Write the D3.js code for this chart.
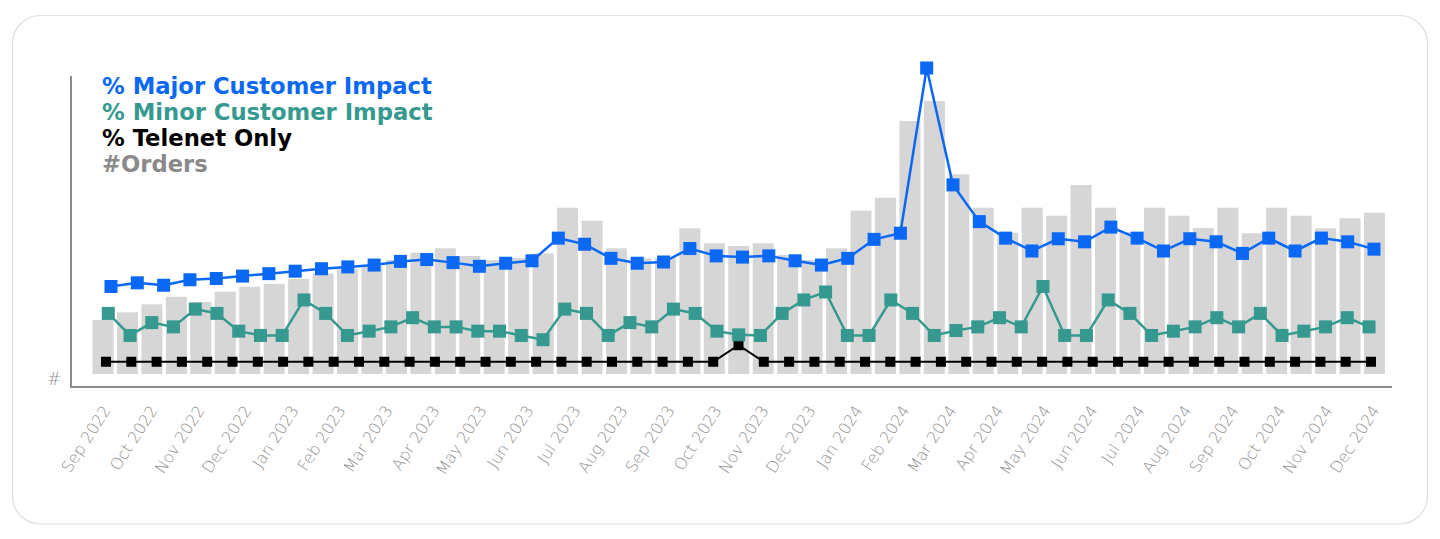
<!DOCTYPE html>
<html>
<head>
<meta charset="utf-8">
<script src="https://cdn.jsdelivr.net/npm/d3@7"></script>
<style>
  html, body { margin: 0; padding: 0; background: #fff; }
  svg { display: block; }
</style>
</head>
<body>
<svg id="chart" width="1440" height="539"></svg>
<script>
// month labels on the x axis
const months = ["Sep 2022", "Oct 2022", "Nov 2022", "Dec 2022", "Jan 2023", "Feb 2023", "Mar 2023",
  "Apr 2023", "May 2023", "Jun 2023", "Jul 2023", "Aug 2023", "Sep 2023", "Oct 2023", "Nov 2023",
  "Dec 2023", "Jan 2024", "Feb 2024", "Mar 2024", "Apr 2024", "May 2024", "Jun 2024", "Jul 2024",
  "Aug 2024", "Sep 2024", "Oct 2024", "Nov 2024", "Dec 2024"];

// #Orders (grey bars)
const orders = [540, 617, 697, 773, 720, 823, 873, 900, 950, 1007, 1047, 1073, 1140, 1213, 1257,
  1180, 1140, 1160, 1207, 1663, 1533, 1257, 1157, 1160, 1457, 1307, 1280, 1307, 1190, 1140, 1257,
  1633, 1763, 2530, 2730, 1997, 1663, 1413, 1663, 1583, 1890, 1663, 1420, 1663, 1583, 1460, 1663,
  1407, 1663, 1583, 1457, 1557, 1613];

// % Major Customer Impact
const major = [14.3, 14.9, 14.5, 15.4, 15.6, 16.0, 16.4, 16.8, 17.2, 17.5, 17.8, 18.4, 18.7, 18.2,
  17.6, 18.1, 18.5, 22.2, 21.2, 18.9, 18.1, 18.3, 20.5, 19.3, 19.1, 19.3, 18.5, 17.8, 18.9, 22.0,
  23.0, 50.0, 30.9, 24.9, 22.2, 20.1, 22.1, 21.6, 24.0, 22.2, 20.1, 22.1, 21.6, 19.7, 22.2, 20.1,
  22.2, 21.6, 20.4];

// % Minor Customer Impact
const minor = [9.9, 6.3, 8.4, 7.7, 10.6, 9.9, 7.0, 6.3, 6.3, 12.1, 9.9, 6.3, 7.0, 7.7, 9.2, 7.7,
  7.7, 7.0, 7.0, 6.3, 5.6, 10.6, 9.9, 6.3, 8.4, 7.7, 10.6, 9.9, 7.0, 6.4, 6.3, 9.9, 12.1, 13.4,
  6.3, 6.3, 12.1, 9.9, 6.3, 7.1, 7.7, 9.2, 7.7, 14.3, 6.3, 6.3, 12.1, 9.9, 6.3, 7.0, 7.7, 9.2,
  7.7, 9.9, 6.3, 7.0, 7.7, 9.2, 7.7];

// % Telenet Only
const telenet = [2.0, 2.0, 2.0, 2.0, 2.0, 2.0, 2.0, 2.0, 2.0, 2.0, 2.0, 2.0, 2.0, 2.0, 2.0, 2.0,
  2.0, 2.0, 2.0, 2.0, 2.0, 2.0, 2.0, 2.0, 2.0, 4.7, 2.0, 2.0, 2.0, 2.0, 2.0, 2.0, 2.0, 2.0, 2.0,
  2.0, 2.0, 2.0, 2.0, 2.0, 2.0, 2.0, 2.0, 2.0, 2.0, 2.0, 2.0, 2.0, 2.0, 2.0, 2.0];

const legendItems = [
  { label: "% Major Customer Impact", color: "#0a68f5" },
  { label: "% Minor Customer Impact", color: "#35998f" },
  { label: "% Telenet Only", color: "#000000" },
  { label: "#Orders", color: "#8a8a8a" }
];

const svg = d3.select("#chart");

// card outline
svg.append("rect")
  .attr("x", 12.5).attr("y", 15.5)
  .attr("width", 1415).attr("height", 508.5)
  .attr("rx", 28)
  .attr("fill", "#fff")
  .attr("stroke", "#dedede")
  .attr("stroke-width", 1.2);

// scales
let xBar = d3.scaleBand()
  .domain(d3.range(orders.length))
  .range([92.5, 1385])
  .paddingInner(0.141)
  .paddingOuter(0);

let yOrders = d3.scaleLinear().domain([0, 3000]).range([374, 74]);
let yPct = d3.scaleLinear().domain([0, 50]).range([374, 68]);

// each line series has its own number of points over the same width
let xMajor = d3.scalePoint().domain(d3.range(major.length)).range([111, 1374]);
let xMinor = d3.scalePoint().domain(d3.range(minor.length)).range([108.3, 1369]);
let xTelenet = d3.scalePoint().domain(d3.range(telenet.length)).range([106, 1371]);
let xMonth = d3.scalePoint().domain(months).range([101.5, 1370.5]);

// bars
svg.append("g")
  .selectAll("rect")
  .data(orders)
  .join("rect")
  .attr("x", (d, i) => xBar(i))
  .attr("y", d => yOrders(d))
  .attr("width", xBar.bandwidth())
  .attr("height", d => yOrders(0) - yOrders(d))
  .attr("fill", "#d6d6d6");

// axis lines
svg.append("line")
  .attr("x1", 71).attr("x2", 71)
  .attr("y1", 76).attr("y2", 387)
  .attr("stroke", "#8c8c8c").attr("stroke-width", 2);
svg.append("line")
  .attr("x1", 70).attr("x2", 1392)
  .attr("y1", 387).attr("y2", 387)
  .attr("stroke", "#8c8c8c").attr("stroke-width", 2);

svg.append("text")
  .attr("x", 54).attr("y", 385)
  .attr("text-anchor", "middle")
  .attr("font-family", "DejaVu Sans")
  .attr("font-weight", 200)
  .attr("font-size", 17)
  .attr("fill", "#8f8f8f")
  .text("#");

function drawSeries(values, xScale, color, lineWidth, size) {
  let line = d3.line()
    .x((d, i) => xScale(i))
    .y(d => yPct(d));
  let g = svg.append("g");
  g.append("path")
    .datum(values)
    .attr("d", line)
    .attr("fill", "none")
    .attr("stroke", color)
    .attr("stroke-width", lineWidth);
  g.selectAll("rect")
    .data(values)
    .join("rect")
    .attr("x", (d, i) => xScale(i) - size / 2)
    .attr("y", d => yPct(d) - size / 2)
    .attr("width", size)
    .attr("height", size)
    .attr("fill", color);
}

drawSeries(telenet, xTelenet, "#000000", 2, 10);
drawSeries(minor, xMinor, "#35998f", 2.5, 13);
drawSeries(major, xMajor, "#0a68f5", 2.5, 13);

// x axis labels
let xAxis = d3.axisBottom(xMonth).tickSize(0).tickPadding(0);
let axisG = svg.append("g")
  .attr("transform", "translate(0,404)")
  .call(xAxis);
axisG.select(".domain").remove();
axisG.selectAll("text")
  .attr("font-family", "DejaVu Sans")
  .attr("font-weight", 200)
  .attr("font-size", 16)
  .attr("fill", "#8f8f8f")
  .attr("text-anchor", "end")
  .attr("dy", "0.7em")
  .attr("transform", "rotate(-57)");

// legend
svg.append("g")
  .selectAll("text")
  .data(legendItems)
  .join("text")
  .attr("x", 102)
  .attr("y", (d, i) => 93.5 + i * 26)
  .attr("font-family", "DejaVu Sans")
  .attr("font-weight", "bold")
  .attr("font-size", 22.7)
  .attr("fill", d => d.color)
  .text(d => d.label);
</script>
</body>
</html>
